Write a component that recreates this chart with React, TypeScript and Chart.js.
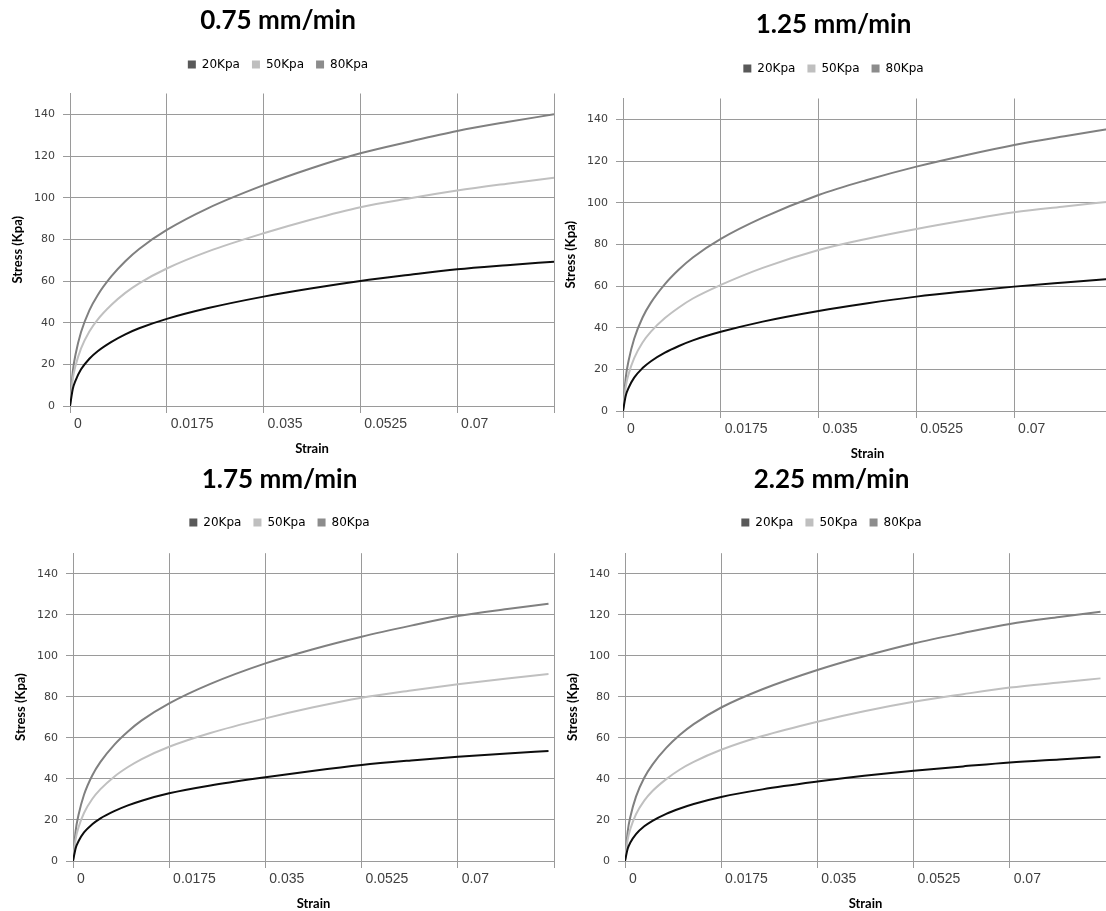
import React, { useEffect, useRef } from 'react';
import { Chart, registerables } from 'chart.js';

Chart.register(...registerables);

// ---- Data ----
const SERIES_LABELS = ['20Kpa', '50Kpa', '80Kpa'];
const CHART_TITLES = ['0.75 mm/min', '1.25 mm/min', '1.75 mm/min', '2.25 mm/min'];

const STRAIN_A = [0, 0.0005, 0.001, 0.002, 0.0035, 0.005, 0.0075, 0.01, 0.0125, 0.0175, 0.025, 0.035, 0.0435, 0.0525, 0.0615, 0.07, 0.079, 0.0875];
const STRAIN_B = [0, 0.0005, 0.001, 0.002, 0.0035, 0.005, 0.0075, 0.01, 0.0125, 0.0175, 0.025, 0.035, 0.0435, 0.0525, 0.0615, 0.07, 0.079, 0.0865];

const S075_20 = [0, 8.2, 12.2, 17.6, 22.7, 26.3, 30.8, 34.4, 37.3, 41.8, 47, 52.5, 56.4, 60, 63, 65.6, 67.6, 69.3];
const S075_50 = [0, 12.9, 19.3, 27.7, 35.8, 41.5, 48.6, 54.3, 58.9, 66, 74.2, 82.9, 89.4, 95.4, 99.7, 103.4, 106.7, 109.6];
const S075_80 = [0, 16.5, 24.7, 35.5, 45.9, 53.2, 62.3, 69.5, 75.4, 84.5, 95, 106, 114, 121.3, 127, 132, 136.3, 140];

const S125_20 = [0, 7.4, 11.1, 16, 20.6, 23.9, 28, 31.2, 33.9, 38, 42.9, 48, 51.6, 54.9, 57.5, 59.7, 61.7, 63.5];
const S125_50 = [0, 11.8, 17.7, 25.4, 32.9, 38.1, 44.6, 49.7, 54, 60.5, 68.7, 77.3, 82.6, 87.4, 91.7, 95.4, 98.2, 100.6];
const S125_80 = [0, 16.1, 24.1, 34.7, 44.9, 52, 60.9, 67.9, 73.7, 82.6, 92.8, 103.7, 110.8, 117.3, 122.9, 127.7, 131.9, 135.6];

const S175_20 = [0, 6.4, 9.6, 13.9, 17.9, 20.8, 24.3, 27.1, 29.4, 33, 36.8, 40.8, 43.9, 46.8, 49, 50.8, 52.4, 53.6];
const S175_50 = [0, 10.9, 16.3, 23.4, 30.2, 35, 41.1, 45.8, 49.7, 55.7, 62.4, 69.5, 74.8, 79.6, 83.1, 86.1, 88.9, 91.1];
const S175_80 = [0, 15, 22.4, 32.3, 41.7, 48.3, 56.6, 63.1, 68.5, 76.8, 86.3, 96.3, 103.1, 109.3, 114.7, 119.4, 122.8, 125.4];

const S225_20 = [0, 6.1, 9.1, 13.1, 16.9, 19.6, 23, 25.6, 27.8, 31.2, 34.9, 38.7, 41.5, 44, 46.1, 48, 49.5, 50.7];
const S225_50 = [0, 10.6, 15.8, 22.8, 29.4, 34.1, 39.9, 44.6, 48.3, 54.2, 60.9, 67.9, 73, 77.6, 81.3, 84.5, 87, 89];
const S225_80 = [0, 14.6, 21.8, 31.4, 40.6, 47, 55.1, 61.5, 66.7, 74.8, 83.7, 93.1, 99.8, 106, 111.1, 115.5, 118.9, 121.5];

const X_MIN = 0;
const X_MAX = 0.0875;
const X_STEP = 0.0175;
const Y_MIN = 0;
const Y_MAX = 150;
const Y_STEP = 20;

// ---- Styles ----
const LINE_COLORS = ['#0d0d0d', '#c0c0c0', '#808080'];
const LEGEND_COLORS = ['#595959', '#bfbfbf', '#8c8c8c'];
const GRID = '#9a9a9a';

type PanelCfg = {
  title: string;
  strain: number[];
  series: number[][];
  left: number;
  top: number;
  width: number;
  height: number;
  titlePad: { top: number; bottom: number };
  spacer: number;
};

const PANELS: PanelCfg[] = [
  { title: CHART_TITLES[0], strain: STRAIN_A, series: [S075_20, S075_50, S075_80], left: 0, top: 0, width: 557, height: 460, titlePad: { top: 5.4, bottom: 9.9 }, spacer: 13 },
  { title: CHART_TITLES[1], strain: STRAIN_A, series: [S125_20, S125_50, S125_80], left: 553, top: 0, width: 562, height: 465, titlePad: { top: 9.4, bottom: 9.9 }, spacer: 14 },
  { title: CHART_TITLES[2], strain: STRAIN_B, series: [S175_20, S175_50, S175_80], left: 3, top: 460, width: 554, height: 455, titlePad: { top: 4.4, bottom: 8.9 }, spacer: 14.7 },
  { title: CHART_TITLES[3], strain: STRAIN_B, series: [S225_20, S225_50, S225_80], left: 555, top: 460, width: 554, height: 455, titlePad: { top: 4.4, bottom: 8.9 }, spacer: 14.7 },
];

function fmtTick(v: any): string {
  const n = Number(v);
  if (n > 0.08) return '';
  return ' ' + String(Number(n.toFixed(4)));
}

function Panel({ cfg }: { cfg: PanelCfg }) {
  const ref = useRef<HTMLCanvasElement | null>(null);
  useEffect(() => {
    if (!ref.current) return;
    const chart = new Chart(ref.current, {
      type: 'line',
      data: {
        datasets: cfg.series.map((vals, i) => ({
          label: SERIES_LABELS[i],
          data: cfg.strain.map((x, j) => ({ x, y: vals[j] })),
          borderColor: LINE_COLORS[i],
          backgroundColor: LEGEND_COLORS[i],
          borderWidth: 2,
          pointRadius: 0,
          cubicInterpolationMode: 'monotone',
          fill: false,
        })),
      },
      options: {
        animation: false,
        responsive: true,
        maintainAspectRatio: false,
        events: [],
        layout: { padding: { left: 0, right: 1, top: 0, bottom: 0 } },
        plugins: {
          title: {
            display: true,
            text: cfg.title,
            color: '#000000',
            font: { family: 'Lato', size: 26, weight: 'bold' },
            padding: cfg.titlePad,
          },
          legend: {
            display: true,
            position: 'top',
            weight: 1800,
            labels: {
              boxWidth: 8,
              boxHeight: 8,
              padding: 12,
              color: '#404040',
              font: { family: 'DejaVu Sans', size: 12 },
              generateLabels: (ch: any) =>
                ch.data.datasets.map((d: any, i: number) => ({
                  text: d.label,
                  fillStyle: LEGEND_COLORS[i],
                  strokeStyle: LEGEND_COLORS[i],
                  lineWidth: 0,
                  hidden: false,
                  datasetIndex: i,
                })),
            },
          },
          subtitle: {
            display: true,
            text: '',
            font: { size: 10, lineHeight: 1 },
            padding: { top: cfg.spacer - 10, bottom: 0 },
          },
          tooltip: { enabled: false },
        },
        scales: {
          x: {
            type: 'linear',
            min: X_MIN,
            max: X_MAX,
            afterFit: (s: any) => { s.height = 54; },
            ticks: {
              stepSize: X_STEP,
              align: 'start',
              maxRotation: 0,
              autoSkip: false,
              padding: 3,
              color: '#404040',
              font: { family: 'Liberation Sans', size: 14 },
              callback: fmtTick,
            },
            grid: { color: GRID, lineWidth: 1, tickLength: 7, drawTicks: true },
            border: { color: GRID },
            title: {
              display: true,
              text: 'Strain',
              color: '#000000',
              font: { family: 'Lato', size: 13, weight: 'bold' },
              padding: { top: 0, bottom: 3 },
            },
          },
          y: {
            type: 'linear',
            min: Y_MIN,
            max: Y_MAX,
            afterFit: (s: any) => { s.width = 70; },
            ticks: {
              stepSize: Y_STEP,
              includeBounds: false,
              padding: 8,
              color: '#404040',
              font: { family: 'DejaVu Sans', size: 11 },
            },
            grid: { color: GRID, lineWidth: 1, tickLength: 7, drawTicks: true },
            border: { color: GRID },
            title: {
              display: true,
              text: 'Stress (Kpa)',
              color: '#000000',
              font: { family: 'Lato', size: 13, weight: 'bold' },
              padding: { top: 10, bottom: 0 },
            },
          },
        },
      } as any,
    });
    return () => chart.destroy();
  }, [cfg]);

  return (
    <div style={{ position: 'absolute', left: cfg.left, top: cfg.top, width: cfg.width, height: cfg.height }}>
      <canvas ref={ref} />
    </div>
  );
}

export default function App() {
  return (
    <div style={{ position: 'absolute', left: 0, top: 0, width: 1106, height: 911, overflow: 'hidden', background: '#ffffff' }}>
      {PANELS.map((p, i) => (
        <Panel key={i} cfg={p} />
      ))}
    </div>
  );
}
